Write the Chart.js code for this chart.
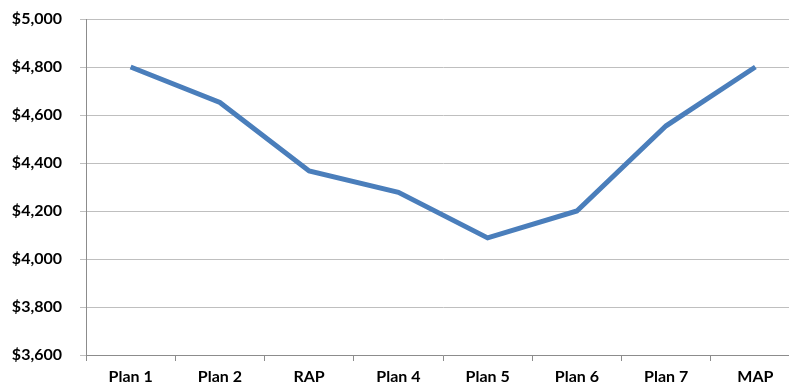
<!DOCTYPE html>
<html>
<head>
<meta charset="utf-8">
<script src="https://cdn.jsdelivr.net/npm/chart.js@4"></script>
<style>
  html, body { margin: 0; padding: 0; background: #fff; overflow: hidden; }
  #wrap { width: 789px; height: 388px; overflow: hidden; }
  #box { width: 800px; height: 388px; }
</style>
</head>
<body>
<div id="wrap"><div id="box"><canvas id="myChart"></canvas></div></div>
<script>
const plans = ['Plan 1', 'Plan 2', 'RAP', 'Plan 4', 'Plan 5', 'Plan 6', 'Plan 7', 'MAP'];
const costs = [4800, 4652, 4367, 4278, 4088, 4200, 4555, 4800];
const yMin = 3600;
const yMax = 5000;
const yStep = 200;

const ctx = document.getElementById('myChart');
new Chart(ctx, {
    type: 'line',
    data: {
        labels: plans,
        datasets: [{
            label: 'Cost',
            data: costs,
            borderColor: '#4a7ebb',
            borderWidth: 5,
            pointRadius: 0,
            tension: 0,
            fill: false
        }]
    },
    options: {
        responsive: true,
        maintainAspectRatio: false,
        animation: false,
        layout: { padding: { top: 19, right: 0, bottom: 0, left: 0 } },
        plugins: {
            legend: { display: false },
            tooltip: { enabled: false }
        },
        scales: {
            x: {
                offset: true,
                grid: {
                    offset: true,
                    drawOnChartArea: false,
                    tickLength: 6,
                    color: '#8c8c8c'
                },
                border: { color: '#8c8c8c' },
                ticks: {
                    color: '#000',
                    padding: 6,
                    maxRotation: 0,
                    font: { family: 'Lato', weight: 'bold', size: 16 }
                },
                afterFit: (scale) => {
                    scale.height = 33;
                    scale.paddingLeft = 0;
                    scale.paddingRight = 0;
                }
            },
            y: {
                min: yMin,
                max: yMax,
                grid: {
                    color: '#bfbfbf',
                    tickLength: 6
                },
                border: { color: '#8c8c8c' },
                ticks: {
                    stepSize: yStep,
                    color: '#000',
                    padding: 18,
                    font: { family: 'Lato', weight: 'bold', size: 16 },
                    callback: (v) => '$' + v.toLocaleString('en-US')
                },
                afterFit: (scale) => {
                    scale.width = 86;
                    scale.paddingTop = 0;
                    scale.paddingBottom = 0;
                }
            }
        }
    }
});
</script>
</body>
</html>
